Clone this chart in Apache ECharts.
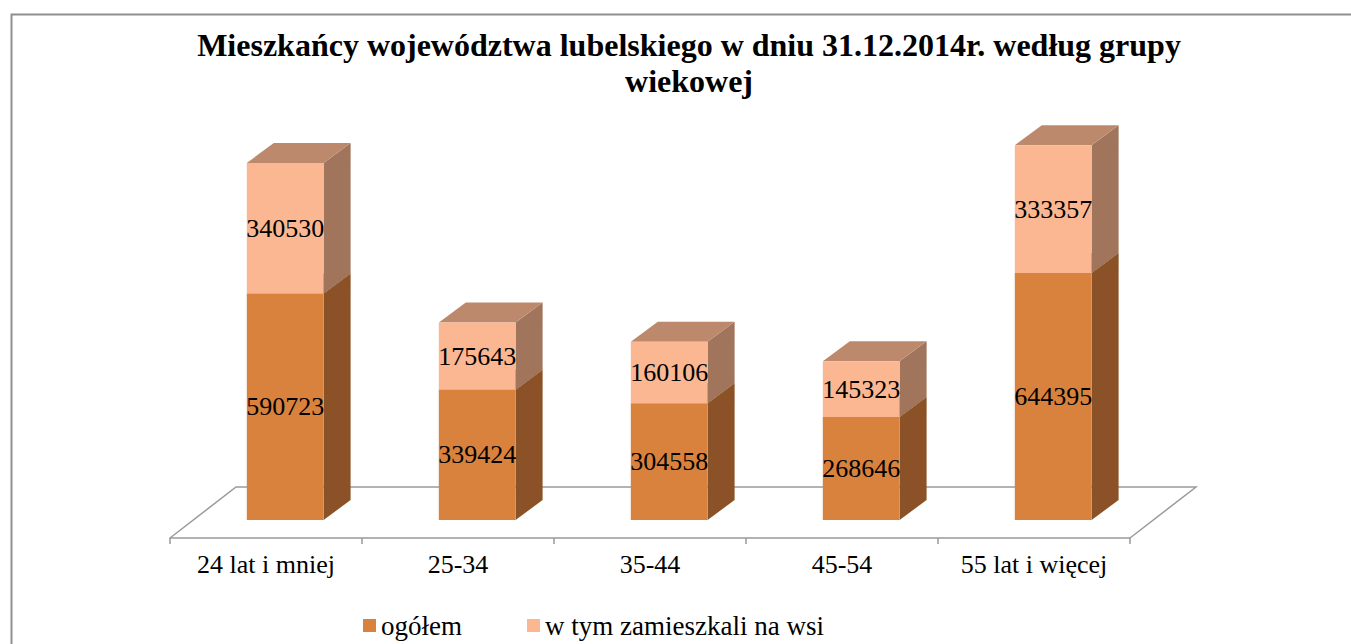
<!DOCTYPE html>
<html><head><meta charset="utf-8">
<script src="https://cdn.jsdelivr.net/npm/echarts@6/dist/echarts.min.js"></script>
<style>html,body{margin:0;padding:0;background:#fff}#c{width:1351px;height:644px}</style>
</head><body><div id="c"></div>
<script>
const categories = ['24 lat i mniej', '25-34', '35-44', '45-54', '55 lat i więcej'];
const ogolem = [590723, 339424, 304558, 268646, 644395];
const wsi = [340530, 175643, 160106, 145323, 333357];
const seriesNames = ['ogółem', 'w tym zamieszkali na wsi'];
const titleText = 'Mieszkańcy województwa lubelskiego w dniu 31.12.2014r. według grupy\nwiekowej';

const DX = 27, DY = 20, LIFT = 18, FDX = 66, FDY = 51;
const FONT = '"Liberation Serif","Times New Roman",serif';
const GRAY = '#9a9a9a';
const styles = [
  { front: '#D9823D', side: '#8B5227', top: '#B56C35' },
  { front: '#FAB791', side: '#A0755B', top: '#BD896D' }
];

function makeRender(layer) {
  return function (params, api) {
    const idx = api.value(0);
    const lo = api.value(1), hi = api.value(2), lab = api.value(3);
    const band = api.size([1, 0])[0];
    const w = band * 0.4;
    const c = api.coord([idx, lo]);
    const x0 = c[0] + band * 0.1 - w / 2;
    const yB = c[1] - LIFT;
    const yT = api.coord([idx, hi])[1] - LIFT;
    const s = styles[layer];
    return {
      type: 'group', children: [
        { type: 'polygon', shape: { points: [[x0 + w, yB], [x0 + w + DX, yB - DY], [x0 + w + DX, yT - DY], [x0 + w, yT]] }, style: { fill: s.side } },
        { type: 'polygon', shape: { points: [[x0, yT], [x0 + w, yT], [x0 + w + DX, yT - DY], [x0 + DX, yT - DY]] }, style: { fill: s.top } },
        { type: 'rect', shape: { x: x0, y: yT, width: w, height: yB - yT }, style: { fill: s.front } },
        { type: 'text', x: x0 + w / 2, y: (yT + yB) / 2, style: { text: String(lab), fill: '#000', font: '26px ' + FONT, align: 'center', verticalAlign: 'middle' } }
      ]
    };
  };
}

const layer0 = categories.map((c, i) => [i, 0, ogolem[i], ogolem[i]]);
const layer1 = categories.map((c, i) => [i, ogolem[i], ogolem[i] + wsi[i], wsi[i]]);

const chart = echarts.init(document.getElementById('c'), null, { renderer: 'svg' });
chart.setOption({
  animation: false,
  backgroundColor: '#fff',
  title: {
    text: titleText, left: 689, top: 27, padding: 0, textAlign: 'center',
    textStyle: { fontSize: 32, fontWeight: 'bold', fontFamily: FONT, color: '#000', lineHeight: 36 }
  },
  legend: {
    data: seriesNames, left: 363, top: 612, padding: 0, itemWidth: 13, itemHeight: 13, itemGap: 65, icon: 'rect',
    textStyle: { fontSize: 27, fontFamily: FONT, color: '#000' }
  },
  grid: { left: 170, right: 221, bottom: 106, top: 154.6 },
  xAxis: {
    type: 'category', data: categories,
    axisLine: { lineStyle: { color: GRAY, width: 1.5 } },
    axisTick: { show: true, length: 6, lineStyle: { color: GRAY, width: 1.5 } },
    axisLabel: { color: '#000', fontSize: 26, fontFamily: FONT, margin: 13 }
  },
  yAxis: { type: 'value', min: 0, max: 1000000, show: false, splitLine: { show: false } },
  graphic: [
    { type: 'rect', left: 9, top: 12, shape: { width: 1400, height: 700 }, style: { fill: 'none', stroke: '#8f8f8f', lineWidth: 2 }, z: 100 }
  ],
  series: [
    {
      type: 'custom', name: 'floor', silent: true, clip: false, data: [[0]],
      renderItem: function (params, api) {
        const cs = params.coordSys;
        const yb = cs.y + cs.height;
        return {
          type: 'polyline',
          shape: { points: [[cs.x, yb], [cs.x + FDX, yb - FDY], [cs.x + cs.width + FDX, yb - FDY], [cs.x + cs.width, yb]] },
          style: { stroke: GRAY, lineWidth: 1.5, fill: 'none' }
        };
      }
    },
    {
      type: 'custom', name: seriesNames[0], clip: false, itemStyle: { color: styles[0].front },
      encode: { x: 0, y: [1, 2] }, data: layer0, renderItem: makeRender(0)
    },
    {
      type: 'custom', name: seriesNames[1], clip: false, itemStyle: { color: styles[1].front },
      encode: { x: 0, y: [1, 2] }, data: layer1, renderItem: makeRender(1)
    }
  ]
});
</script></body></html>
